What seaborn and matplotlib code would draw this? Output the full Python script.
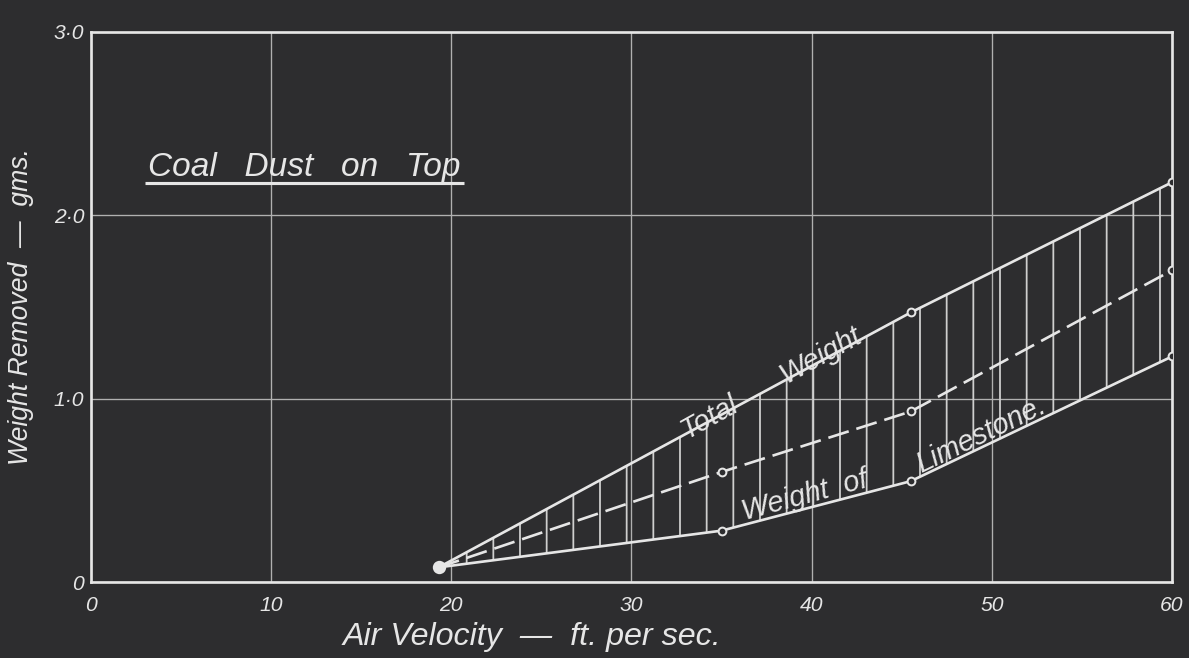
import numpy as np
import pandas as pd
import matplotlib
matplotlib.use("Agg")
import matplotlib.pyplot as plt
import seaborn as sns

# Data (air velocity ft/sec, weight removed gms)
total_x = [19.3, 45.5, 60]
total_y = [0.08, 1.47, 2.18]
mid_x = [19.3, 35, 45.5, 60]
mid_y = [0.08, 0.60, 0.93, 1.70]
lime_x = [19.3, 35, 45.5, 60]
lime_y = [0.08, 0.28, 0.55, 1.23]

x_ticks = [0, 10, 20, 30, 40, 50, 60]
x_labels = ["0", "10", "20", "30", "40", "50", "60"]
y_ticks = [0, 1, 2, 3]
y_labels = ["0", "1·0", "2·0", "3·0"]

bg = "#2d2d2f"
ink = "#e6e6e6"
grid_c = "#b0b0b0"

sns.set_style("dark", {"axes.facecolor": bg, "figure.facecolor": bg,
                       "axes.edgecolor": ink, "grid.color": grid_c})
plt.rcParams["font.family"] = ["Liberation Sans", "DejaVu Sans"]
plt.rcParams["font.style"] = "italic"
plt.rcParams["hatch.linewidth"] = 0.8

# dpi 160 so that the '|' hatch spacing matches the drawn shading
fig = plt.figure(figsize=(1189 / 160, 658 / 160), dpi=160)
ax = fig.add_axes([0.0765, 0.1155, 0.9092, 0.8359])

# shaded band between total and limestone
xs = np.union1d(total_x, lime_x)
up = np.interp(xs, total_x, total_y)
lo = np.interp(xs, lime_x, lime_y)
ax.fill_between(xs, lo, up, facecolor="none", edgecolor="#cfcfcf",
                hatch="|", linewidth=0, zorder=2)

mk = dict(marker="o", markersize=3.5, markerfacecolor=bg,
          markeredgecolor=ink, markeredgewidth=0.9)
sns.lineplot(x=total_x, y=total_y, ax=ax, color=ink, lw=1.2, zorder=4, **mk)
sns.lineplot(x=mid_x, y=mid_y, ax=ax, color=ink, lw=1.2, zorder=4,
             dashes=False, **mk)
ax.lines[-1].set_dashes([8, 3])
sns.lineplot(x=lime_x, y=lime_y, ax=ax, color=ink, lw=1.2, zorder=4, **mk)
ax.plot(total_x[0], total_y[0], "o", ms=5, color=ink, zorder=5)

ax.set_xlim(0, 60)
ax.set_ylim(0, 3)
ax.set_xticks(x_ticks)
ax.set_xticklabels(x_labels)
ax.set_yticks(y_ticks)
ax.set_yticklabels(y_labels)
ax.tick_params(length=0, labelsize=9.5, colors=ink)
ax.tick_params(axis="x", pad=6.5)
ax.tick_params(axis="y", pad=3)
ax.grid(True, color=grid_c, lw=0.6)
for s in ax.spines.values():
    s.set_color(ink)
    s.set_linewidth(1.2)

ax.set_xlabel("Air Velocity  —  ft. per sec.", fontsize=14.5, color=ink)
ax.xaxis.set_label_coords(0.408, -0.072)
ax.set_ylabel("Weight Removed  —  gms.", fontsize=12, color=ink)
ax.yaxis.set_label_coords(-0.053, 0.5)

# curve labels
lab = dict(color=ink, fontsize=13, ha="center", va="center", zorder=6)
ax.text(34.3, 0.9, "Total", rotation=29, **lab)
ax.text(40.5, 1.24, "Weight", rotation=29, **lab)
ax.text(39.6, 0.47, "Weight  of", rotation=15, **lab)
ax.text(49.4, 0.8, "Limestone.", rotation=26, **lab)

t = ax.text(0.053, 0.738, "Coal   Dust   on   Top", transform=ax.transAxes,
            fontsize=15, color=ink, ha="left", va="baseline")
fig.canvas.draw()
bb = t.get_window_extent().transformed(ax.transAxes.inverted())
ax.plot([bb.x0 - 0.003, bb.x1 + 0.003], [0.726, 0.726], transform=ax.transAxes,
        color=ink, lw=1.4, solid_capstyle="butt")

fig.savefig("out.png", dpi=160, facecolor=bg)
